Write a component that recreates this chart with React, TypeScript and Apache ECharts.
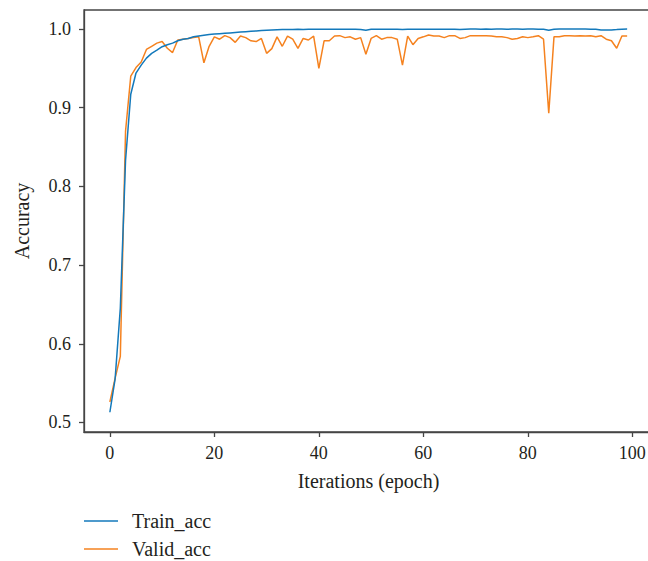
import React, { useEffect, useRef } from "react";
import * as echarts from "echarts";

const epochs: number[] = Array.from({ length: 100 }, (_, i) => i);

const trainAcc: number[] = [
  0.513, 0.555, 0.645, 0.833, 0.917, 0.944, 0.954, 0.963, 0.969, 0.973,
  0.9775, 0.98, 0.982, 0.985, 0.987, 0.988, 0.99, 0.991, 0.992, 0.993,
  0.9935, 0.994, 0.9945, 0.995, 0.9955, 0.996, 0.9965, 0.997, 0.9975, 0.998,
  0.9985, 0.9988, 0.999, 0.9992, 0.9993, 0.9994, 0.9995, 0.9994, 0.9995, 0.9996,
  0.9995, 0.9996, 0.9995, 0.9996, 0.9995, 0.9996, 0.9996, 0.9995, 0.9993, 0.9985,
  0.9995, 0.9996, 0.9997, 0.9996, 0.9995, 0.9996, 0.9994, 0.9996, 0.9997, 0.9996,
  0.9997, 0.9997, 0.9996, 0.9997, 0.9996, 0.9996, 0.9997, 0.9994, 0.9997, 0.9998,
  0.9998, 0.9997, 0.9998, 0.9997, 0.9998, 0.9998, 0.9997, 0.9998, 0.9998, 0.9997,
  0.9998, 0.9998, 0.9997, 0.9995, 0.9985, 0.9996, 0.9998, 0.9998, 0.9998, 0.9998,
  0.9998, 0.9998, 0.9997, 0.9995, 0.9988, 0.9987, 0.9988, 0.9992, 0.9997, 0.9998,
];

const validAcc: number[] = [
  0.526, 0.556, 0.584, 0.87, 0.94, 0.951, 0.958, 0.974, 0.978, 0.982,
  0.984, 0.9755, 0.97, 0.986, 0.987, 0.988, 0.989, 0.99, 0.957, 0.978,
  0.99, 0.987, 0.9915, 0.989, 0.983, 0.991, 0.989, 0.985, 0.984, 0.988,
  0.969, 0.975, 0.99, 0.978, 0.991, 0.987, 0.9754, 0.988, 0.986, 0.991,
  0.95, 0.985, 0.985, 0.991, 0.9915, 0.989, 0.99, 0.987, 0.989, 0.968,
  0.988, 0.9915, 0.987, 0.989, 0.989, 0.987, 0.954, 0.991, 0.98, 0.988,
  0.99, 0.9924, 0.991, 0.991, 0.989, 0.9915, 0.9915, 0.988, 0.989, 0.9915,
  0.9915, 0.9915, 0.9915, 0.991, 0.99, 0.99, 0.989, 0.987, 0.988, 0.99,
  0.989, 0.99, 0.9915, 0.987, 0.893, 0.99, 0.99, 0.9915, 0.9915, 0.991,
  0.9915, 0.991, 0.9915, 0.99, 0.9915, 0.987, 0.985, 0.9755, 0.991, 0.991,
];

const xTicks: number[] = [0, 20, 40, 60, 80, 100];
const yTicks: number[] = [0.5, 0.6, 0.7, 0.8, 0.9, 1.0];
const seriesNames: string[] = ["Train_acc", "Valid_acc"];

const FONT = "Liberation Serif";
const TEXT = "#231f20";
const FRAME = "#454545";
const BLUE = "#1379bb";
const ORANGE = "#f5821f";

export default function App() {
  const ref = useRef<HTMLDivElement>(null);
  useEffect(() => {
    if (!ref.current) return;
    const chart = echarts.init(ref.current, undefined, { renderer: "svg" });
    chart.setOption({
      animation: false,
      backgroundColor: "#ffffff",
      grid: {
        left: 84,
        top: 10,
        right: 7,
        bottom: 129,
        show: true,
        borderColor: FRAME,
        borderWidth: 1.3,
        backgroundColor: "transparent",
      },
      legend: {
        left: 84,
        top: 511,
        height: 50,
        padding: 0,
        orient: "vertical",
        icon: "rect",
        itemWidth: 34,
        itemHeight: 1.5,
        itemGap: 8,
        data: seriesNames,
        textStyle: {
          fontFamily: FONT,
          fontSize: 20,
          color: TEXT,
          lineHeight: 20,
          padding: [0, 0, 0, 9],
        },
      },
      xAxis: {
        type: "value",
        min: -4.95,
        max: 103.95,
        name: "Iterations (epoch)",
        nameLocation: "middle",
        nameGap: 39,
        nameTextStyle: { fontFamily: FONT, fontSize: 20, color: TEXT },
        splitLine: { show: false },
        axisLine: { show: true, onZero: false, lineStyle: { color: FRAME, width: 1.3 } },
        axisTick: {
          show: true,
          inside: false,
          length: 5,
          customValues: xTicks,
          lineStyle: { color: FRAME, width: 1.3 },
        },
        axisLabel: {
          customValues: xTicks,
          fontFamily: FONT,
          fontSize: 18,
          color: TEXT,
          margin: 12,
        },
      },
      yAxis: {
        type: "value",
        min: 0.4879,
        max: 1.0241,
        name: "Accuracy",
        nameLocation: "middle",
        nameGap: 52,
        nameTextStyle: { fontFamily: FONT, fontSize: 20, color: TEXT },
        splitLine: { show: false },
        axisLine: { show: true, onZero: false, lineStyle: { color: FRAME, width: 1.3 } },
        axisTick: {
          show: true,
          inside: false,
          length: 5,
          customValues: yTicks,
          lineStyle: { color: FRAME, width: 1.3 },
        },
        axisLabel: {
          customValues: yTicks,
          fontFamily: FONT,
          fontSize: 18,
          color: TEXT,
          margin: 13,
          formatter: (v: number) => v.toFixed(1),
        },
      },
      series: [
        {
          name: seriesNames[0],
          type: "line",
          symbol: "none",
          showSymbol: false,
          data: epochs.map((e, i) => [e, trainAcc[i]]),
          lineStyle: { color: BLUE, width: 1.5 },
          itemStyle: { color: BLUE },
          z: 3,
        },
        {
          name: seriesNames[1],
          type: "line",
          symbol: "none",
          showSymbol: false,
          data: epochs.map((e, i) => [e, validAcc[i]]),
          lineStyle: { color: ORANGE, width: 1.5 },
          itemStyle: { color: ORANGE },
          z: 2,
        },
      ],
    });
    return () => chart.dispose();
  }, []);
  return (
    <div
      style={{
        position: "fixed",
        left: 0,
        top: 0,
        width: 648,
        height: 561,
        overflow: "hidden",
        background: "#fff",
      }}
    >
      <div ref={ref} style={{ width: 660, height: 561 }} />
    </div>
  );
}
